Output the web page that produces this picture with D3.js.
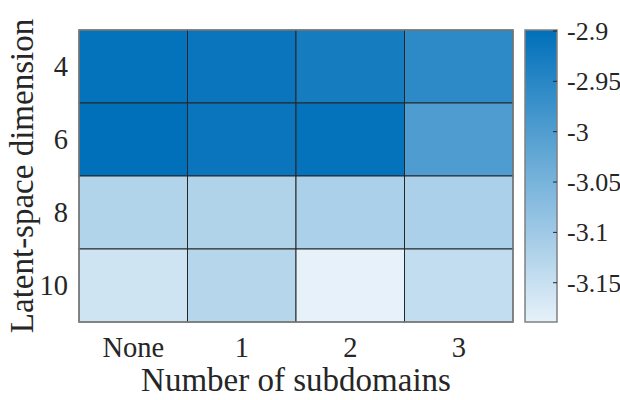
<!DOCTYPE html>
<html><head><meta charset="utf-8">
<script src="https://cdn.jsdelivr.net/npm/d3@7"></script>
<style>html,body{margin:0;padding:0;background:#fff;}svg{display:block;}</style>
</head><body>
<script>
const xCategories = ["None", "1", "2", "3"];
const yCategories = ["4", "6", "8", "10"];
const row4  = [-2.905, -2.911, -2.927, -2.957];
const row6  = [-2.899, -2.911, -2.905, -2.998];
const row8  = [-3.123, -3.122, -3.114, -3.114];
const row10 = [-3.160, -3.128, -3.189, -3.143];
const colorbarTicks = [-2.9, -2.95, -3, -3.05, -3.1, -3.15];
const xLabel = "Number of subdomains";
const yLabel = "Latent-space dimension";

const rows = [row4, row6, row8, row10];
const cells = [];
rows.forEach((r, i) => r.forEach((v, j) => cells.push({y: yCategories[i], x: xCategories[j], v})));
const allVals = cells.map(d => d.v);
const cmin = d3.min(allVals), cmax = d3.max(allVals);

const W = 620, H = 400;
const svg = d3.select("body").append("svg").attr("width", W).attr("height", H);
const font = "'Liberation Serif', 'Times New Roman', Times, serif";

const plot = {l: 79, r: 513, t: 30, b: 322};
const x = d3.scaleBand().domain(xCategories).range([plot.l, plot.r]);
const y = d3.scaleBand().domain(yCategories).range([plot.t, plot.b]);
const color = d3.scaleLinear().domain([cmin, cmax]).range(["#e6f1f9", "#0070ba"]).interpolate(d3.interpolateRgb);

svg.append("g").selectAll("rect").data(cells).join("rect")
  .attr("x", d => x(d.x)).attr("y", d => y(d.y))
  .attr("width", x.bandwidth()).attr("height", y.bandwidth())
  .attr("fill", d => color(d.v))
  .attr("stroke", "#262626").attr("stroke-width", 1);

svg.append("rect").attr("x", plot.l).attr("y", plot.t)
  .attr("width", plot.r - plot.l).attr("height", plot.b - plot.t)
  .attr("fill", "none").attr("stroke", "#808080").attr("stroke-width", 1.5);

// x tick labels
svg.append("g").selectAll("text").data(xCategories).join("text")
  .attr("x", d => x(d) + x.bandwidth() / 2).attr("y", 357)
  .attr("text-anchor", "middle").attr("font-family", font).attr("font-size", 28.5)
  .attr("fill", "#262626").text(d => d);
// y tick labels
svg.append("g").selectAll("text").data(yCategories).join("text")
  .attr("x", 68).attr("y", d => y(d) + y.bandwidth() / 2)
  .attr("dy", "0.34em")
  .attr("text-anchor", "end").attr("font-family", font).attr("font-size", 28.5)
  .attr("fill", "#262626").text(d => d);

svg.append("text").attr("x", (plot.l + plot.r) / 2).attr("y", 391)
  .attr("text-anchor", "middle").attr("font-family", font).attr("font-size", 33)
  .attr("fill", "#262626").text(xLabel);
svg.append("text").attr("transform", `translate(33,${(plot.t + plot.b) / 2}) rotate(-90)`)
  .attr("text-anchor", "middle").attr("font-family", font).attr("font-size", 33)
  .attr("fill", "#262626").text(yLabel);

// colorbar
const cb = {l: 525, r: 557, t: 30, b: 322};
const cy = d3.scaleLinear().domain([cmin, cmax]).range([cb.b, cb.t]);
const grad = svg.append("defs").append("linearGradient").attr("id", "cbg")
  .attr("x1", 0).attr("y1", 1).attr("x2", 0).attr("y2", 0);
d3.range(0, 1.0001, 0.05).forEach(t => grad.append("stop")
  .attr("offset", t).attr("stop-color", color(cmin + t * (cmax - cmin))));
svg.append("rect").attr("x", cb.l).attr("y", cb.t).attr("width", cb.r - cb.l).attr("height", cb.b - cb.t)
  .attr("fill", "url(#cbg)").attr("stroke", "#808080").attr("stroke-width", 1.5);
const cbAxis = d3.axisRight(cy).tickValues(colorbarTicks).tickSize(0).tickPadding(10)
  .tickFormat(d => d3.format("")(d).replace("−", "-"));
const gA = svg.append("g").attr("transform", `translate(${cb.r},0)`).call(cbAxis);
gA.select(".domain").remove();
gA.selectAll("text").attr("font-family", font).attr("font-size", 26).attr("fill", "#262626");
svg.append("g").selectAll("line").data(colorbarTicks).join("line")
  .attr("x1", cb.r - 4).attr("x2", cb.r).attr("y1", d => cy(d)).attr("y2", d => cy(d))
  .attr("stroke", "#262626").attr("stroke-width", 1);
</script>
</body></html>
